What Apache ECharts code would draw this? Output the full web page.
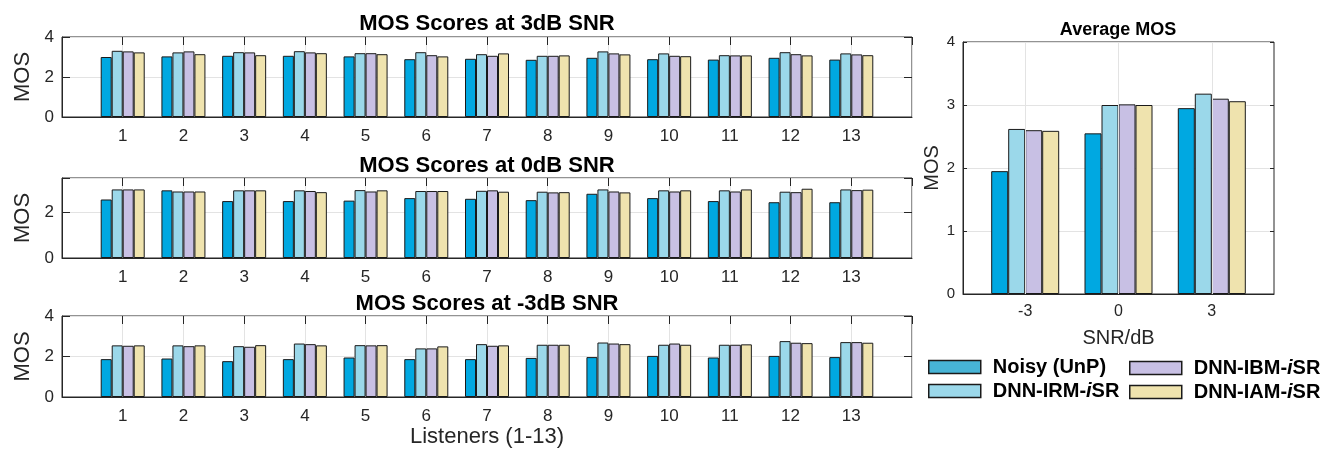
<!DOCTYPE html>
<html>
<head>
<meta charset="utf-8">
<title>MOS Scores</title>
<script src="https://cdn.jsdelivr.net/npm/echarts@6/dist/echarts.min.js"></script>
<style>
  html, body { margin: 0; padding: 0; background: #ffffff; }
  #chart { width: 1320px; height: 457px; }
</style>
</head>
<body>
<div id="chart"></div>
<script>
// Listener indices (x categories of the three per-SNR panels)
const listeners = [1, 2, 3, 4, 5, 6, 7, 8, 9, 10, 11, 12, 13];

// Method names (legend order)
const methodNames = ['Noisy (UnP)', 'DNN-IRM-iSR', 'DNN-IBM-iSR', 'DNN-IAM-iSR'];

// MOS per listener at 3 dB SNR
const noisy3dB = [3.00, 3.03, 3.06, 3.06, 3.03, 2.89, 2.91, 2.86, 2.96, 2.89, 2.87, 2.96, 2.87];
const irm3dB   = [3.31, 3.23, 3.24, 3.29, 3.19, 3.24, 3.14, 3.06, 3.28, 3.18, 3.09, 3.24, 3.18];
const ibm3dB   = [3.28, 3.28, 3.23, 3.23, 3.19, 3.09, 3.06, 3.06, 3.18, 3.06, 3.08, 3.14, 3.13];
const iam3dB   = [3.23, 3.14, 3.09, 3.19, 3.14, 3.03, 3.18, 3.08, 3.13, 3.04, 3.08, 3.08, 3.09];

// MOS per listener at 0 dB SNR
const noisy0dB = [2.56, 2.96, 2.49, 2.49, 2.51, 2.62, 2.59, 2.53, 2.81, 2.62, 2.49, 2.44, 2.44];
const irm0dB   = [3.00, 2.91, 2.96, 2.96, 2.97, 2.93, 2.94, 2.90, 3.00, 2.96, 2.96, 2.90, 3.00];
const ibm0dB   = [3.00, 2.91, 2.96, 2.93, 2.91, 2.93, 2.96, 2.87, 2.91, 2.91, 2.91, 2.88, 2.97];
const iam0dB   = [3.00, 2.91, 2.96, 2.88, 2.96, 2.93, 2.90, 2.88, 2.87, 2.96, 3.00, 3.03, 2.99];

// MOS per listener at -3 dB SNR
const noisyM3dB = [1.87, 1.90, 1.77, 1.87, 1.95, 1.87, 1.87, 1.93, 1.97, 2.03, 1.95, 2.03, 1.97];
const irmM3dB   = [2.55, 2.55, 2.51, 2.64, 2.56, 2.40, 2.61, 2.58, 2.69, 2.58, 2.58, 2.76, 2.71];
const ibmM3dB   = [2.53, 2.51, 2.48, 2.61, 2.55, 2.40, 2.53, 2.58, 2.64, 2.64, 2.58, 2.68, 2.71];
const iamM3dB   = [2.55, 2.55, 2.56, 2.55, 2.56, 2.50, 2.55, 2.58, 2.61, 2.58, 2.60, 2.66, 2.68];

// Average MOS over listeners per SNR level
const snrLevels = [-3, 0, 3];
const avgNoisy = [1.95, 2.55, 2.95];
const avgIRM   = [2.62, 3.00, 3.18];
const avgIBM   = [2.60, 3.01, 3.10];
const avgIAM   = [2.59, 3.00, 3.06];

// Panel titles
const snrTitles = ['MOS Scores at 3dB SNR', 'MOS Scores at 0dB SNR', 'MOS Scores at -3dB SNR'];

const FONT = '"Liberation Sans", Arial, Helvetica, sans-serif';
const AXIS_COLOR = '#262626';
const GRID_COLOR = '#e3e3e3';
const barColors = ['#00a8e1', '#9bd8ea', '#c8c0e4', '#efe3ae'];
const legendNoisyColor = '#47b4d6';

const panels = [
  { values: [noisy3dB, irm3dB, ibm3dB, iam3dB], yMax: 4 },
  { values: [noisy0dB, irm0dB, ibm0dB, iam0dB], yMax: 3.5 },
  { values: [noisyM3dB, irmM3dB, ibmM3dB, iamM3dB], yMax: 4 }
];

const grids = [
  { left: 62, top: 37, width: 850, height: 80 },
  { left: 62, top: 178, width: 850, height: 80 },
  { left: 62, top: 316, width: 850, height: 81 },
  { left: 963, top: 42, width: 311, height: 252 }
];

const xAxes = [];
const yAxes = [];
const series = [];

const yLabelFmt = v => (v % 2 === 0 ? String(v) : '');
const hiddenLine = { show: false, onZero: false };

panels.forEach((p, gi) => {
  // bottom axis with listener labels
  xAxes.push({
    type: 'value', gridIndex: gi, min: 0, max: 14, interval: 1, position: 'bottom',
    axisLine: { show: true, onZero: false, lineStyle: { color: AXIS_COLOR, width: 1 } },
    axisTick: { show: false },
    axisLabel: {
      fontFamily: FONT, fontSize: 17, color: AXIS_COLOR, margin: 11,
      formatter: v => (v >= 1 && v <= 13 ? String(v) : '')
    },
    splitLine: { show: true, lineStyle: { color: GRID_COLOR, width: 1 } },
    name: gi === 2 ? 'Listeners (1-13)' : '',
    nameLocation: 'middle', nameGap: 29,
    nameTextStyle: { fontFamily: FONT, fontSize: 22, color: AXIS_COLOR }
  });
  // top axis carrying the inward tick marks
  xAxes.push({
    type: 'value', gridIndex: gi, min: 0, max: 14, interval: 1, position: 'top',
    axisLine: hiddenLine,
    axisTick: { show: true, inside: true, length: 8, lineStyle: { color: AXIS_COLOR } },
    axisLabel: { show: false },
    splitLine: { show: false }
  });
  yAxes.push({
    type: 'value', gridIndex: gi, min: 0, max: p.yMax, interval: 2, position: 'left',
    axisLine: { show: true, onZero: false, lineStyle: { color: AXIS_COLOR } },
    axisTick: { show: true, inside: true, length: 8, lineStyle: { color: AXIS_COLOR } },
    axisLabel: { fontFamily: FONT, fontSize: 17, color: AXIS_COLOR, margin: 8, formatter: yLabelFmt },
    splitLine: { show: true, lineStyle: { color: GRID_COLOR, width: 1 } },
    name: 'MOS', nameLocation: 'middle', nameGap: 22, nameRotate: 90,
    nameTextStyle: { fontFamily: FONT, fontSize: 22, color: AXIS_COLOR }
  });
  yAxes.push({
    type: 'value', gridIndex: gi, min: 0, max: p.yMax, interval: 2, position: 'right',
    axisLine: hiddenLine,
    axisTick: { show: true, inside: true, length: 8, lineStyle: { color: AXIS_COLOR } },
    axisLabel: { show: false },
    splitLine: { show: false }
  });
  p.values.forEach((vals, si) => {
    series.push({
      type: 'bar', name: methodNames[si],
      xAxisIndex: gi * 2, yAxisIndex: gi * 2,
      data: listeners.map((l, k) => [l, vals[k]]),
      barWidth: 11, barGap: '0%',
      itemStyle: { color: barColors[si], borderColor: '#1a1a1a', borderWidth: 1 },
      emphasis: { disabled: true },
      z: 3
    });
  });
});

// Average MOS panel
const avgValues = [avgNoisy, avgIRM, avgIBM, avgIAM];
xAxes.push({
  type: 'value', gridIndex: 3, min: -5, max: 5, position: 'bottom',
  axisLine: { show: true, onZero: false, lineStyle: { color: AXIS_COLOR } },
  axisTick: { show: true, inside: true, length: 4, customValues: snrLevels, lineStyle: { color: AXIS_COLOR } },
  axisLabel: { fontFamily: FONT, fontSize: 16, color: AXIS_COLOR, margin: 10, customValues: snrLevels },
  splitLine: { show: false },
  name: 'SNR/dB', nameLocation: 'middle', nameGap: 34,
  nameTextStyle: { fontFamily: FONT, fontSize: 20, color: AXIS_COLOR }
});
xAxes.push({
  type: 'value', gridIndex: 3, min: -5, max: 5, position: 'top',
  axisLine: hiddenLine,
  axisTick: { show: true, inside: true, length: 4, customValues: snrLevels, lineStyle: { color: AXIS_COLOR } },
  axisLabel: { show: false },
  splitLine: { show: false }
});
yAxes.push({
  type: 'value', gridIndex: 3, min: 0, max: 4, interval: 1, position: 'left',
  axisLine: { show: true, onZero: false, lineStyle: { color: AXIS_COLOR } },
  axisTick: { show: true, inside: true, length: 4, lineStyle: { color: AXIS_COLOR } },
  axisLabel: { fontFamily: FONT, fontSize: 15, color: AXIS_COLOR, margin: 8 },
  splitLine: { show: true, lineStyle: { color: GRID_COLOR, width: 1 } },
  name: 'MOS', nameLocation: 'middle', nameGap: 20, nameRotate: 90,
  nameTextStyle: { fontFamily: FONT, fontSize: 20, color: AXIS_COLOR }
});
yAxes.push({
  type: 'value', gridIndex: 3, min: 0, max: 4, interval: 1, position: 'right',
  axisLine: hiddenLine,
  axisTick: { show: true, inside: true, length: 4, lineStyle: { color: AXIS_COLOR } },
  axisLabel: { show: false },
  splitLine: { show: false }
});

// vertical grid lines at the SNR levels (drawn beneath the bars)
series.push({
  type: 'line', name: 'snr-grid', xAxisIndex: 6, yAxisIndex: 6, data: [], z: 1, silent: true,
  markLine: {
    silent: true, symbol: 'none', label: { show: false }, animation: false,
    lineStyle: { color: GRID_COLOR, width: 1, type: 'solid' },
    emphasis: { disabled: true },
    data: snrLevels.map(s => ({ xAxis: s }))
  }
});

avgValues.forEach((vals, si) => {
  series.push({
    type: 'bar', name: methodNames[si],
    xAxisIndex: 6, yAxisIndex: 6,
    data: snrLevels.map((s, k) => [s, vals[k]]),
    barWidth: 17, barGap: '0%',
    itemStyle: { color: barColors[si], borderColor: '#1a1a1a', borderWidth: 1 },
    emphasis: { disabled: true },
    z: 3
  });
});

// Legend text: bold, with an italic "i" in the iSR suffix
const legendFormatter = name => {
  const m = name.match(/^(.*-)i(SR)$/);
  return m ? '{b|' + m[1] + '}{i|i}{b|' + m[2] + '}' : '{b|' + name + '}';
};
const legendText = {
  padding: [0, 0, 0, 7],
  lineHeight: 20,
  rich: {
    b: { fontFamily: FONT, fontSize: 20, fontWeight: 'bold', color: '#000', lineHeight: 20 },
    i: { fontFamily: FONT, fontSize: 20, fontWeight: 'bold', fontStyle: 'italic', color: '#000', lineHeight: 20 }
  }
};
const legendItem = (name, color) => ({ name, itemStyle: { color } });
const legendBase = {
  orient: 'vertical', icon: 'rect', itemWidth: 52, itemHeight: 13, itemGap: 4,
  selectedMode: false, formatter: legendFormatter, textStyle: legendText, padding: 0,
  itemStyle: { borderColor: '#1a1a1a', borderWidth: 1.5 }
};

const titleText = (text, x, y, size) => ({
  type: 'text', x, y, silent: true,
  style: { text, fill: '#000', font: 'bold ' + size + 'px ' + FONT, align: 'center', verticalAlign: 'middle' }
});

const option = {
  animation: false,
  backgroundColor: '#ffffff',
  grid: grids.map(g => Object.assign({ show: true, borderColor: AXIS_COLOR, borderWidth: 1, backgroundColor: 'transparent', containLabel: false }, g)),
  xAxis: xAxes,
  yAxis: yAxes,
  legend: [
    Object.assign({ left: 928, top: 357, data: [legendItem(methodNames[0], legendNoisyColor), legendItem(methodNames[1], barColors[1])] }, legendBase),
    Object.assign({ left: 1129, top: 358, data: [legendItem(methodNames[2], barColors[2]), legendItem(methodNames[3], barColors[3])] }, legendBase)
  ],
  graphic: [
    titleText(snrTitles[0], 487, 24, 22),
    titleText(snrTitles[1], 487, 166, 22),
    titleText(snrTitles[2], 487, 304, 22),
    titleText('Average MOS', 1118, 30, 18)
  ],
  series
};

const chart = echarts.init(document.getElementById('chart'), null, { renderer: 'canvas' });
chart.setOption(option);
</script>
</body>
</html>
